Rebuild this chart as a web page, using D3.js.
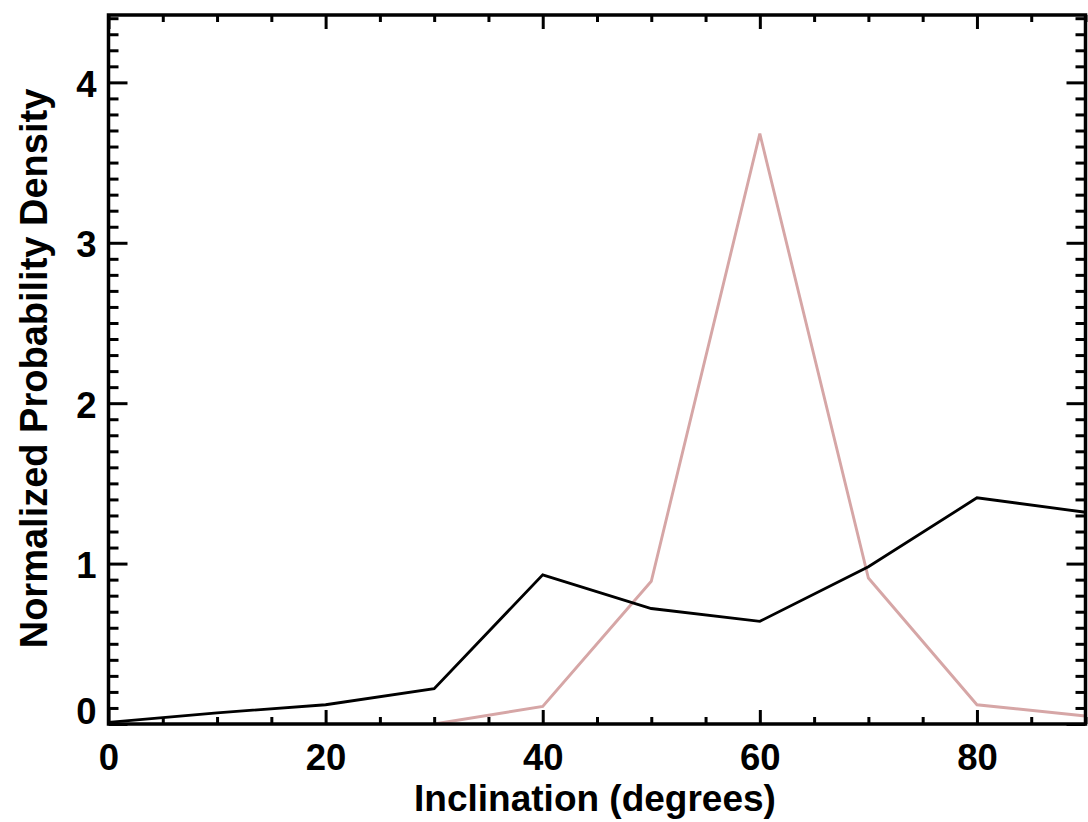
<!DOCTYPE html>
<html>
<head>
<meta charset="utf-8">
<script src="https://cdn.jsdelivr.net/npm/d3@7"></script>
<style>
  html, body { margin: 0; padding: 0; background: #fff; }
  svg text { font-family: "Liberation Sans", Arial, Helvetica, sans-serif; font-weight: bold; fill: #000; }
</style>
</head>
<body>
<svg id="chart" width="1088" height="822"></svg>
<script>
// Inclination bins (degrees)
const inclination = [0, 10, 20, 30, 40, 50, 60, 70, 80, 90];
// Normalized probability density, broad distribution (black)
const densityBroad = [0.01, 0.07, 0.12, 0.22, 0.93, 0.72, 0.64, 0.98, 1.41, 1.32];
// Normalized probability density, narrow distribution (pink), defined from 30 degrees
const inclinationNarrow = [30, 40, 50, 60, 70, 80, 90];
const densityNarrow = [0.0, 0.11, 0.89, 3.68, 0.91, 0.12, 0.05];

const xMajorTicks = [0, 20, 40, 60, 80];
const yMajorTicks = [0, 1, 2, 3, 4];

const svg = d3.select("#chart");
const plotLeft = 108.5, plotRight = 1085.5, plotTop = 15, plotBottom = 724;

const x = d3.scaleLinear().domain([0, 90]).range([plotLeft, plotRight]);
const y = d3.scaleLinear().domain([0, 4.42]).range([plotBottom, plotTop]);

const xMinor = d3.range(0, 90.001, 5).filter(v => !xMajorTicks.includes(v));
const yMinor = d3.range(0, 4.42, 0.1).map(v => +v.toFixed(1)).filter(v => !yMajorTicks.includes(v));

// Data lines
const line = d3.line().x(d => x(d[0])).y(d => y(d[1]));

svg.append("path")
  .datum(d3.zip(inclinationNarrow, densityNarrow))
  .attr("d", line)
  .attr("fill", "none")
  .attr("stroke", "#d6a6a6")
  .attr("stroke-width", 2.9)
  .attr("stroke-linejoin", "miter");

svg.append("path")
  .datum(d3.zip(inclination, densityBroad))
  .attr("d", line)
  .attr("fill", "none")
  .attr("stroke", "#000")
  .attr("stroke-width", 2.8)
  .attr("stroke-linejoin", "miter");

// Axes: ticks point inward on all four sides
const xMajLen = 14, xMinLen = 7, yMajLen = 19, yMinLen = 10;

function styleAxis(g) {
  g.select(".domain").remove();
  g.selectAll(".tick line").attr("stroke", "#000").attr("stroke-width", 3);
}

// bottom
svg.append("g").attr("transform", `translate(0,${plotBottom})`)
  .call(d3.axisBottom(x).tickValues(xMinor).tickSize(-xMinLen).tickFormat(""))
  .call(styleAxis);
svg.append("g").attr("transform", `translate(0,${plotBottom})`)
  .call(d3.axisBottom(x).tickValues(xMajorTicks).tickSize(-xMajLen).tickPadding(0).tickFormat(d3.format("d")))
  .call(styleAxis)
  .call(g => g.selectAll(".tick text")
    .attr("y", 0).attr("dy", null)
    .attr("transform", "translate(0,46)")
    .attr("font-size", 36.5));

// top
svg.append("g").attr("transform", `translate(0,${plotTop})`)
  .call(d3.axisTop(x).tickValues(xMinor).tickSize(-xMinLen).tickFormat(""))
  .call(styleAxis);
svg.append("g").attr("transform", `translate(0,${plotTop})`)
  .call(d3.axisTop(x).tickValues(xMajorTicks).tickSize(-xMajLen).tickFormat(""))
  .call(styleAxis);

// left
svg.append("g").attr("transform", `translate(${plotLeft},0)`)
  .call(d3.axisLeft(y).tickValues(yMinor).tickSize(-yMinLen).tickFormat(""))
  .call(styleAxis);
svg.append("g").attr("transform", `translate(${plotLeft},0)`)
  .call(d3.axisLeft(y).tickValues(yMajorTicks).tickSize(-yMajLen).tickFormat(d3.format("d")))
  .call(styleAxis)
  .call(g => g.selectAll(".tick text")
    .attr("x", -12)
    .attr("dy", d => d === 0 ? "-0.02em" : "0.38em")
    .attr("text-anchor", "end")
    .attr("font-size", 36.5));

// right
svg.append("g").attr("transform", `translate(${plotRight},0)`)
  .call(d3.axisRight(y).tickValues(yMinor).tickSize(-yMinLen).tickFormat(""))
  .call(styleAxis);
svg.append("g").attr("transform", `translate(${plotRight},0)`)
  .call(d3.axisRight(y).tickValues(yMajorTicks).tickSize(-yMajLen).tickFormat(""))
  .call(styleAxis);

// Frame
svg.append("rect")
  .attr("x", plotLeft).attr("y", plotTop)
  .attr("width", plotRight - plotLeft).attr("height", plotBottom - plotTop)
  .attr("fill", "none").attr("stroke", "#000").attr("stroke-width", 3.5);

// Axis titles
svg.append("text")
  .attr("x", (plotLeft + plotRight) / 2 - 2).attr("y", 811)
  .attr("text-anchor", "middle")
  .attr("font-size", 37)
  .text("Inclination (degrees)");

svg.append("text")
  .attr("transform", `translate(47,${(plotTop + plotBottom) / 2 - 1}) rotate(-90)`)
  .attr("text-anchor", "middle")
  .attr("font-size", 38)
  .text("Normalized Probability Density");
</script>
</body>
</html>
